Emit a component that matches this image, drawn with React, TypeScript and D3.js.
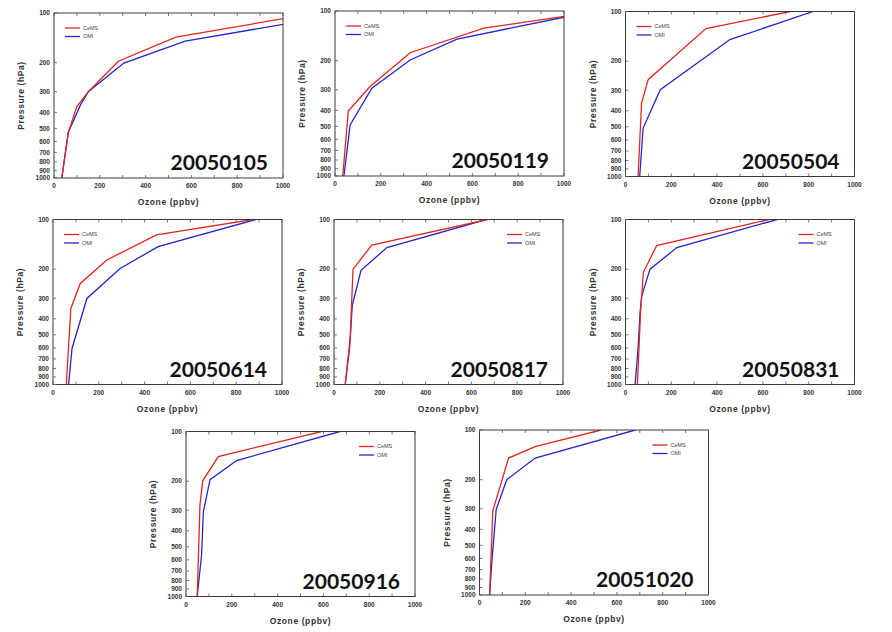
import React from "react";
import * as d3 from "d3";

// ---- data: [pressure hPa, ozone ppbv] ----
const cems20050105 = [[1000, 34], [530, 63], [370, 99], [300, 150], [196, 281], [140, 532], [100, 1143]];
const omi20050105 = [[1000, 34], [530, 62], [360, 116], [300, 150], [201, 305], [148, 573], [100, 1290]];
const cems20050119 = [[1000, 34], [404, 58], [287, 153], [179, 328], [127, 650], [100, 1160]];
const omi20050119 = [[1000, 39], [491, 66], [294, 161], [198, 328], [148, 533], [100, 1134]];
const cems20050504 = [[1000, 55], [360, 70], [259, 99], [127, 351], [100, 719]];
const omi20050504 = [[1000, 62], [509, 77], [298, 152], [148, 456], [100, 819]];
const cems20050614 = [[1000, 58], [346, 78], [244, 119], [176, 235], [124, 452], [100, 872]];
const omi20050614 = [[1000, 68], [605, 83], [301, 148], [198, 293], [146, 459], [100, 885]];
const cems20050817 = [[1000, 49], [520, 71], [200, 83], [143, 165], [100, 670]];
const omi20050817 = [[1000, 49], [600, 68], [330, 80], [203, 118], [148, 231], [100, 665]];
const cems20050831 = [[1000, 52], [359, 66], [209, 78], [144, 136], [100, 627]];
const omi20050831 = [[1000, 42], [600, 55], [360, 64], [290, 71], [200, 107], [148, 224], [100, 662]];
const cems20050916 = [[1000, 49], [278, 61], [199, 73], [142, 141], [100, 592]];
const omi20050916 = [[1000, 49], [560, 68], [305, 76], [196, 105], [150, 221], [100, 672]];
const cems20051020 = [[1000, 44], [310, 58], [148, 127], [126, 243], [100, 530]];
const omi20051020 = [[1000, 44], [600, 55], [303, 73], [200, 119], [148, 243], [100, 680]];

const dates = ["20050105", "20050119", "20050504", "20050614", "20050817", "20050831", "20050916", "20051020"];
const cemsSeries = [cems20050105, cems20050119, cems20050504, cems20050614, cems20050817, cems20050831, cems20050916, cems20051020];
const omiSeries = [omi20050105, omi20050119, omi20050504, omi20050614, omi20050817, omi20050831, omi20050916, omi20051020];
const legendLabels = ["CeMS", "OMI"];
const yTickValues = [100, 200, 300, 400, 500, 600, 700, 800, 900, 1000];
const xTickValues = [0, 200, 400, 600, 800, 1000];
const xMinorTicks = [0, 100, 200, 300, 400, 500, 600, 700, 800, 900, 1000];

// layout (plot-area left/top), legend placement
const panelPos = [
  [54, 13], [335, 11], [625.5, 11.5],
  [53, 219.5], [334, 219.5], [625.5, 219.5],
  [186, 431.5], [479.5, 430],
];
const legendRight = [false, false, false, false, true, true, true, true];

const PW = 229;
const PH = 165;
const RED = "#e3261c";
const BLUE = "#2424d0";
const FONT = "'Liberation Sans', Arial, sans-serif";

function Panel({ idx }: { idx: number }) {
  const [left, top] = panelPos[idx];
  const x = d3.scaleLinear().domain([0, 1000]).range([left, left + PW]);
  const y = d3.scaleLog().domain([100, 1000]).range([top, top + PH]);
  const line = d3
    .line<number[]>()
    .x((d) => x(d[1]))
    .y((d) => y(d[0]));
  const clipId = `clip${idx}`;
  const lr = legendRight[idx];
  const lx = lr ? left + PW - 56 : left + 11;
  const ly = top + 15;
  return (
    <g>
      <defs>
        <clipPath id={clipId}>
          <rect x={left} y={top} width={PW} height={PH} />
        </clipPath>
      </defs>
      <g clipPath={`url(#${clipId})`}>
        <path d={line(omiSeries[idx]) || ""} fill="none" stroke={BLUE} strokeWidth={1.3} />
        <path d={line(cemsSeries[idx]) || ""} fill="none" stroke={RED} strokeWidth={1.3} />
      </g>
      <rect x={left} y={top} width={PW} height={PH} fill="none" stroke="#3a3a3a" strokeWidth={1} />
      {xMinorTicks.map((t) => (
        <g key={"xt" + t}>
          <line x1={x(t)} x2={x(t)} y1={top + PH} y2={top + PH - 3} stroke="#555" strokeWidth={0.8} />
          <line x1={x(t)} x2={x(t)} y1={top} y2={top + 3} stroke="#555" strokeWidth={0.8} />
        </g>
      ))}
      {yTickValues.map((t) => (
        <line key={"yt" + t} x1={left} x2={left + 3} y1={y(t)} y2={y(t)} stroke="#555" strokeWidth={0.8} />
      ))}
      {yTickValues.map((t) => (
        <text
          key={"yl" + t}
          x={left - 4}
          y={y(t)}
          dy="0.35em"
          textAnchor="end"
          fontFamily={FONT}
          fontWeight="bold"
          fontSize={6.5}
          fill="#333"
        >
          {t}
        </text>
      ))}
      {xTickValues.map((t) => (
        <text
          key={"xl" + t}
          x={x(t)}
          y={top + PH + 10}
          textAnchor="middle"
          fontFamily={FONT}
          fontWeight="bold"
          fontSize={6.5}
          fill="#333"
        >
          {t}
        </text>
      ))}
      <text
        x={left + PW / 2}
        y={top + PH + 27}
        textAnchor="middle"
        fontFamily={FONT}
        fontWeight="bold"
        fontSize={8.5}
        letterSpacing={0.6}
        fill="#333"
      >
        Ozone (ppbv)
      </text>
      <text
        transform={`translate(${left - 30},${top + PH / 2}) rotate(-90)`}
        textAnchor="middle"
        fontFamily={FONT}
        fontWeight="bold"
        fontSize={8.5}
        letterSpacing={0.6}
        fill="#333"
      >
        Pressure (hPa)
      </text>
      <line x1={lx} x2={lx + 15} y1={ly} y2={ly} stroke={RED} strokeWidth={1.3} />
      <line x1={lx} x2={lx + 15} y1={ly + 8.5} y2={ly + 8.5} stroke={BLUE} strokeWidth={1.3} />
      <text x={lx + 18} y={ly} dy="0.35em" fontFamily={FONT} fontSize={5.5} fill="#444">
        {legendLabels[0]}
      </text>
      <text x={lx + 18} y={ly + 8.5} dy="0.35em" fontFamily={FONT} fontSize={5.5} fill="#444">
        {legendLabels[1]}
      </text>
      <text
        x={left + PW - 15}
        y={top + PH - 8}
        textAnchor="end"
        fontFamily="Lato, 'Open Sans', sans-serif"
        fontWeight="bold"
        fontSize={21}
        fill="#111"
      >
        {dates[idx]}
      </text>
    </g>
  );
}

export default function App() {
  return (
    <svg
      width={892}
      height={632}
      style={{ position: "absolute", left: 0, top: 0, background: "#fff" }}
    >
      {dates.map((_, i) => (
        <Panel key={i} idx={i} />
      ))}
    </svg>
  );
}
